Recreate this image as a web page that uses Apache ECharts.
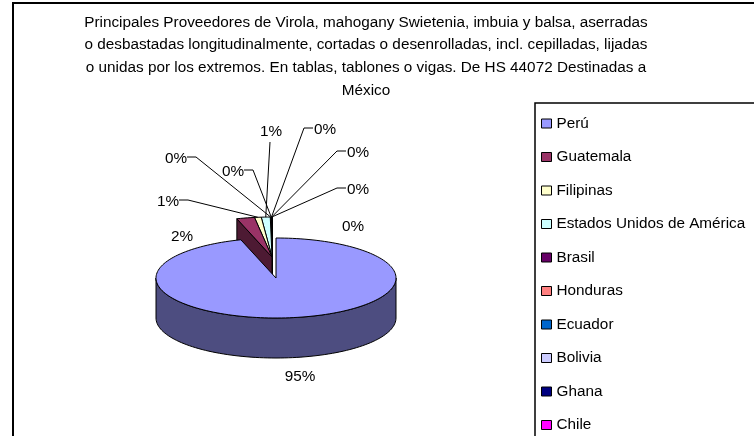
<!DOCTYPE html>
<html>
<head>
<meta charset="utf-8">
<script src="https://cdn.jsdelivr.net/npm/echarts@6/dist/echarts.min.js"></script>
<style>
  html, body { margin: 0; padding: 0; background: #fff; }
  #chart { width: 754px; height: 436px; }
</style>
</head>
<body>
<div id="chart"></div>
<script>
// datos
var countries = ['Perú', 'Guatemala', 'Filipinas', 'Estados Unidos de América', 'Brasil',
                 'Honduras', 'Ecuador', 'Bolivia', 'Ghana', 'Chile'];
var shares = [95.27, 2.4, 0.9, 1.2, 0.1, 0.05, 0.03, 0.02, 0.02, 0.01];
var colors = ['#9999FF', '#993366', '#FFFFCC', '#CCFFFF', '#660066',
              '#FF8080', '#0066CC', '#CCCCFF', '#000080', '#FF00FF'];
var titleLines = [
    'Principales Proveedores de Virola, mahogany Swietenia, imbuia y balsa, aserradas',
    'o desbastadas longitudinalmente, cortadas o desenrolladas, incl. cepilladas, lijadas',
    'o unidas por los extremos. En tablas, tablones o vigas. De HS 44072 Destinadas a',
    'México'
];

// layout del pastel 3D
var FONT = '"Liberation Sans", Arial, sans-serif';
var FS = 15.3;
var cx = 276, cy = 278, rx = 120, ry = 40, depth = 40;
var explodeOff = [-4, -21];
// posicion de etiquetas [x, y, lado de la guia]
var labelSpots = [
    [300, 377, null], [182, 237, null], [168, 202, 'R'], [271, 132, 'D'], [176, 159, 'R'],
    [233, 172, 'R'], [325, 130, 'L'], [358, 153, 'L'], [358, 190, 'L'], [353, 227, null]
];

var total = shares.reduce(function (a, b) { return a + b; }, 0);
var starts = [];
var acc = 0;
shares.forEach(function (v) { starts.push(acc / total * 360); acc += v; });

function shade(hex, f) {
    var n = parseInt(hex.slice(1), 16);
    var r = Math.round(((n >> 16) & 255) * f), g = Math.round(((n >> 8) & 255) * f), b = Math.round((n & 255) * f);
    return 'rgb(' + r + ',' + g + ',' + b + ')';
}

function pt(a, off, down) {
    var r = a * Math.PI / 180;
    return [cx + off[0] + rx * Math.sin(r), cy + off[1] - ry * Math.cos(r) + (down || 0)];
}

function arcPts(a0, a1, off, down) {
    var n = Math.max(2, Math.ceil((a1 - a0) / 2));
    var res = [];
    for (var i = 0; i <= n; i++) res.push(pt(a0 + (a1 - a0) * i / n, off, down));
    return res;
}

function makeRender(idx) {
    return function (params, api) {
        var a0 = starts[idx];
        var a1 = a0 + api.value(0) / total * 360;
        var off = idx > 0 ? explodeOff : [0, 0];
        var apex = [cx + off[0], cy + off[1]];
        var apexD = [apex[0], apex[1] + depth];
        var base = idx === 0 ? 100 : 2 * (countries.length - idx);
        var line = { stroke: '#000', lineWidth: 1 };
        var side = shade(colors[idx], 0.5);
        var kids = [];

        // pared frontal
        var w0 = Math.max(a0, 90), w1 = Math.min(a1, 270);
        if (w1 > w0) {
            var wall = arcPts(w0, w1, off, 0).concat(arcPts(w0, w1, off, depth).reverse());
            kids.push({ type: 'polygon', z2: base, shape: { points: wall },
                style: Object.assign({ fill: side }, line) });
        }
        // caras de corte
        [[a0, Math.sin(a0 * Math.PI / 180) < -1e-6], [a1, Math.sin(a1 * Math.PI / 180) > 1e-6]]
            .forEach(function (f) {
                if (!f[1]) return;
                var p = pt(f[0], off, 0), q = pt(f[0], off, depth);
                kids.push({ type: 'polygon', z2: base, shape: { points: [apex, p, q, apexD] },
                    style: Object.assign({ fill: side }, line) });
            });
        // cara superior
        kids.push({ type: 'polygon', z2: base + 1, shape: { points: [apex].concat(arcPts(a0, a1, off, 0)) },
            style: Object.assign({ fill: colors[idx] }, line) });

        // etiqueta
        var spot = labelSpots[idx];
        var pct = Math.round(api.value(0) / total * 100) + '%';
        kids.push({ type: 'text', z2: 300, style: {
            text: pct, x: spot[0], y: spot[1], align: 'center', verticalAlign: 'middle',
            font: FS + 'px ' + FONT, fill: '#000' } });
        if (spot[2]) {
            var end = pt((a0 + a1) / 2, off, 0);
            var pts;
            if (spot[2] === 'R') pts = [[spot[0] + 11, spot[1] - 2], [spot[0] + 20, spot[1] - 2], end];
            else if (spot[2] === 'L') pts = [[spot[0] - 12, spot[1] - 2], [spot[0] - 21, spot[1] - 2], end];
            else pts = [[spot[0] - 1, spot[1] + 10], end];
            kids.push({ type: 'polyline', z2: 299, shape: { points: pts },
                style: { stroke: '#000', lineWidth: 1, fill: null } });
        }
        return { type: 'group', children: kids };
    };
}

var chart = echarts.init(document.getElementById('chart'));
chart.setOption({
    backgroundColor: '#fff',
    animation: false,
    title: {
        text: titleLines.join('\n'),
        left: 366,
        top: 11,
        padding: 0,
        textAlign: 'center',
        textStyle: { fontFamily: FONT, fontSize: FS, fontWeight: 'normal', color: '#000', lineHeight: 22.7 }
    },
    legend: {
        orient: 'vertical',
        left: 541,
        top: 115,
        height: 400,
        padding: 0,
        icon: 'rect',
        itemWidth: 10,
        itemHeight: 9,
        itemGap: 16.5,
        itemStyle: { borderColor: '#000', borderWidth: 1 },
        textStyle: { fontFamily: FONT, fontSize: FS, color: '#000', lineHeight: 17 },
        data: countries
    },
    graphic: [
        { type: 'rect', shape: { x: 13, y: 3, width: 800, height: 500 },
          style: { fill: null, stroke: '#000', lineWidth: 2 }, z: 100 },
        { type: 'rect', shape: { x: 535, y: 103, width: 300, height: 400 },
          style: { fill: null, stroke: '#000', lineWidth: 1.5 }, z: 100 }
    ],
    series: countries.map(function (name, i) {
        return {
            type: 'custom',
            name: name,
            coordinateSystem: 'none',
            itemStyle: { color: colors[i] },
            data: [[shares[i]]],
            renderItem: makeRender(i)
        };
    })
});
</script>
</body>
</html>
